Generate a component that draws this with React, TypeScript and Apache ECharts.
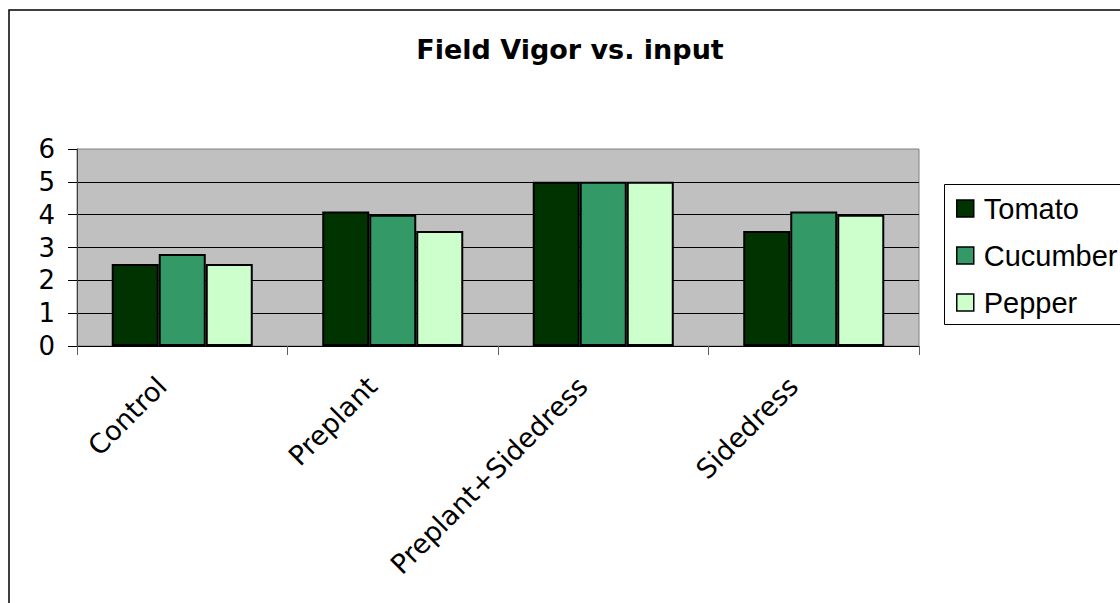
import React, { useEffect, useRef } from "react";
import * as echarts from "echarts";

const categories = ["Control", "Preplant", "Preplant+Sidedress", "Sidedress"];
const seriesNames = ["Tomato", "Cucumber", "Pepper"];
const tomato = [2.5, 4.1, 5, 3.5];
const cucumber = [2.8, 4.0, 5, 4.1];
const pepper = [2.5, 3.5, 5, 4.0];
const colors = ["#003300", "#339966", "#CCFFCC"];
const yTicks = { min: 0, max: 6, interval: 1 };

export default function App() {
  const ref = useRef<HTMLDivElement>(null);
  useEffect(() => {
    if (!ref.current) return;
    const chart = echarts.init(ref.current, null, { renderer: "svg" });
    const values = [tomato, cucumber, pepper];
    chart.setOption({
      animation: false,
      backgroundColor: "#ffffff",
      title: {
        text: "Field Vigor vs. input",
        left: 565,
        textAlign: "center",
        top: 31,
        textStyle: {
          fontFamily: "DejaVu Sans",
          fontWeight: "bold",
          fontSize: 27,
          color: "#000",
        },
      },
      graphic: [
        {
          type: "rect",
          z: -10,
          silent: true,
          shape: { x: 9, y: 10, width: 1400, height: 900 },
          style: { fill: "none", stroke: "#000", lineWidth: 1.5 },
        },
        {
          type: "rect",
          z: -5,
          silent: true,
          shape: { x: 944.5, y: 184.5, width: 400, height: 140 },
          style: { fill: "#fff", stroke: "#000", lineWidth: 1 },
        },
      ],
      legend: {
        orient: "vertical",
        left: 944,
        top: 183,
        padding: [11, 5, 7, 12],
        itemGap: 18,
        itemWidth: 17,
        itemHeight: 17,
        borderWidth: 0,
        icon: "rect",
        itemStyle: { borderColor: "#000", borderWidth: 1.5 },
        textStyle: {
          fontFamily: "Liberation Sans",
          fontSize: 29,
          color: "#000",
          padding: [0, 0, 0, 5],
        },
        data: seriesNames,
      },
      grid: {
        left: 77,
        top: 149,
        right: 201,
        bottom: 257,
        show: true,
        backgroundColor: "#C0C0C0",
        borderColor: "#808080",
        borderWidth: 1,
      },
      xAxis: {
        type: "category",
        data: categories,
        axisLine: { show: true, lineStyle: { color: "#000", width: 1 } },
        axisTick: {
          show: true,
          alignWithLabel: false,
          length: 9,
          lineStyle: { color: "#606060" },
        },
        axisLabel: {
          rotate: 45,
          margin: 15,
          padding: [0, 29, 0, 0],
          interval: 0,
          fontFamily: "DejaVu Sans",
          fontSize: 27,
          color: "#000",
        },
      },
      yAxis: {
        type: "value",
        min: yTicks.min,
        max: yTicks.max,
        interval: yTicks.interval,
        axisLine: { show: true, lineStyle: { color: "#404040", width: 1 } },
        axisTick: { show: true, length: 9, lineStyle: { color: "#000" } },
        splitLine: { show: true, showMaxLine: false, lineStyle: { color: "#000", width: 1 } },
        axisLabel: {
          margin: 22,
          padding: [0, 0, 6, 0],
          fontFamily: "DejaVu Sans",
          fontSize: 26,
          color: "#000",
        },
      },
      series: seriesNames.map((name, i) => ({
        name,
        type: "bar",
        data: values[i],
        barGap: "0%",
        barCategoryGap: "33%",
        itemStyle: { color: colors[i], borderColor: "#000", borderWidth: 2 },
      })),
    });
    return () => chart.dispose();
  }, []);
  return (
    <div
      ref={ref}
      style={{ position: "fixed", left: 0, top: 0, width: 1120, height: 603 }}
    />
  );
}
